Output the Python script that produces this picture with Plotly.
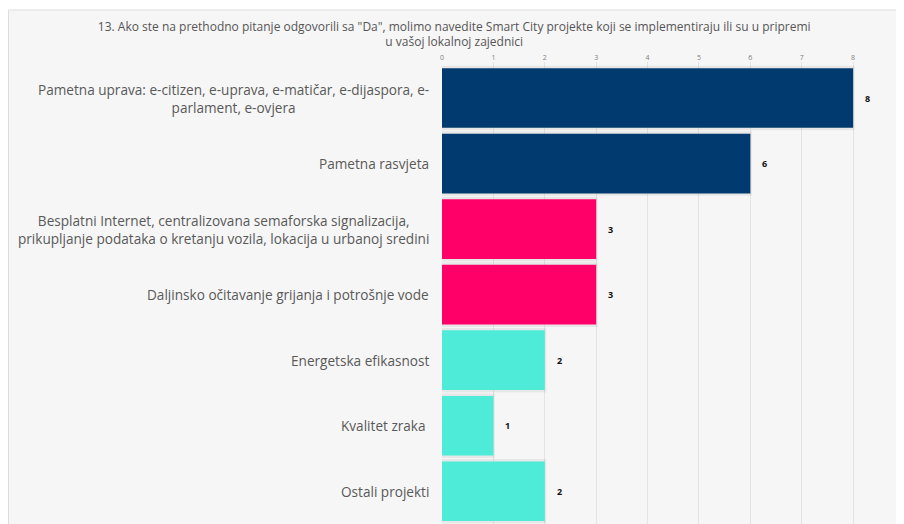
import plotly.graph_objects as go

title_text = '13. Ako ste na prethodno pitanje odgovorili sa "Da", molimo navedite Smart City projekte koji se implementiraju ili su u pripremi<br>u vašoj lokalnoj zajednici'

categories = [
    "Pametna uprava: e-citizen, e-uprava, e-matičar, e-dijaspora, e-<br>parlament, e-ovjera",
    "Pametna rasvjeta",
    "Besplatni Internet, centralizovana semaforska signalizacija,<br>prikupljanje podataka o kretanju vozila, lokacija u urbanoj sredini",
    "Daljinsko očitavanje grijanja i potrošnje vode",
    "Energetska efikasnost",
    "Kvalitet zraka ",
    "Ostali projekti",
]
values = [8, 6, 3, 3, 2, 1, 2]
colors = ["#003A6E", "#003A6E", "#FF0068", "#FF0068", "#4DEBD8", "#4DEBD8", "#4DEBD8"]
x_ticks = [0, 1, 2, 3, 4, 5, 6, 7, 8, 9]

FONT = "Open Sans"

fig = go.Figure()
# soft shadow behind bars
fig.add_trace(go.Bar(
    x=[v + 0.03 for v in values], y=categories, orientation="h",
    width=0.985, marker=dict(color="rgba(0,0,0,0.06)", line=dict(width=0)),
    hoverinfo="skip", showlegend=False,
))
fig.add_trace(go.Bar(
    x=values, y=categories, orientation="h", width=0.91,
    marker=dict(color=colors, line=dict(width=0)),
    showlegend=False,
))

annotations = []
for c, v in zip(categories, values):
    annotations.append(dict(
        x=v, y=c, xref="x", yref="y", text=f"<b>{v}</b>", showarrow=False,
        xanchor="left", xshift=10, font=dict(family=FONT, size=9, color="#111111"),
    ))
    annotations.append(dict(
        x=0, y=c, xref="paper", yref="y", text=c, showarrow=False,
        xanchor="right", xshift=-11, align="center",
        font=dict(family=FONT, size=13.6, color="#595959"),
    ))

fig.update_layout(
    width=896, height=516,
    margin=dict(l=434, r=0, t=54, b=0),
    paper_bgcolor="white",
    plot_bgcolor="#f6f6f6",
    barmode="overlay",
    title=dict(text=title_text, x=0.498, xanchor="center", y=0.956, yanchor="middle",
               font=dict(family=FONT, size=12, color="#555555")),
    xaxis=dict(range=[0, 8.99], side="top", tickvals=x_ticks, showgrid=True,
               gridcolor="#e4e4e4", gridwidth=1, zeroline=False, showline=False,
               tickfont=dict(family=FONT, size=7, color="#7f7f7f"), ticks=""),
    yaxis=dict(type="category", range=[6.5, -0.55], showticklabels=False,
               showgrid=False, zeroline=False),
    shapes=[dict(type="rect", xref="paper", yref="paper",
                 x0=(0.5 - 434) / 462, x1=1.05, y0=-0.05, y1=1 + (54 - 2) / 462,
                 fillcolor="#f6f6f6", line=dict(color="#dddddd", width=1), layer="below")],
    annotations=annotations,
)

fig.write_html("out.html")
